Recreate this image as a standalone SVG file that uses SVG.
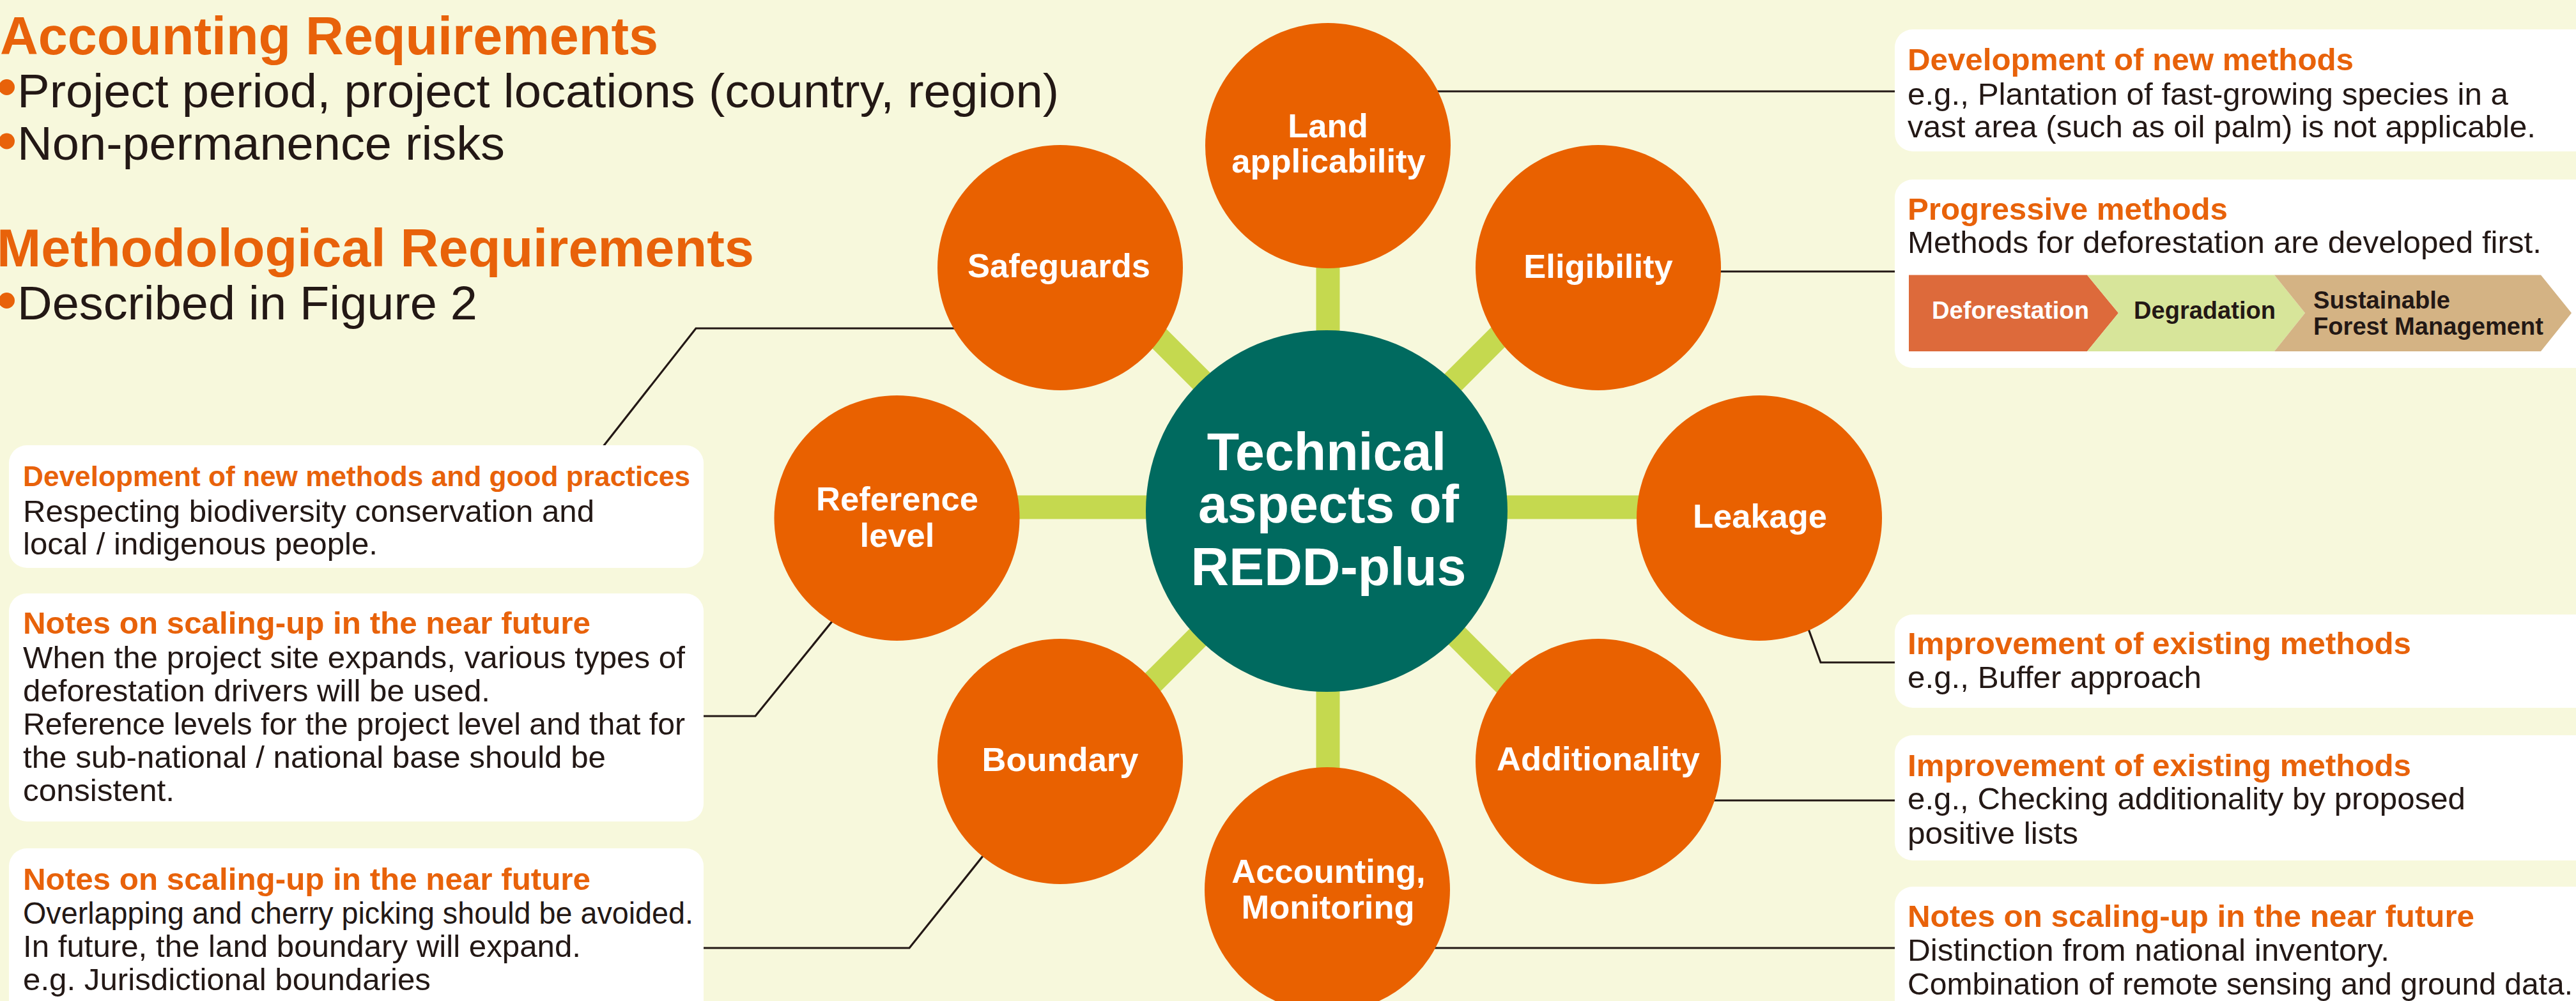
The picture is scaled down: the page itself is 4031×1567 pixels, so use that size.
<svg xmlns="http://www.w3.org/2000/svg" width="4031" height="1567" viewBox="0 0 4031 1567">
<defs>
<style>
text{font-family:"Liberation Sans",Arial,Helvetica,sans-serif;}
.bg{fill:#f7f8dc;}
.spoke{stroke:#c5d94f;stroke-width:37;fill:none;}
.lead{stroke:#231815;stroke-width:3.2;fill:none;}
.node{fill:#e96100;}
.hub{fill:#006a5f;}
.lbl{fill:#ffffff;font-weight:bold;font-size:52.5px;text-anchor:middle;}
.hubl{fill:#ffffff;font-weight:bold;font-size:82.5px;text-anchor:middle;}
.box{fill:#ffffff;}
.hd{fill:#e8620a;font-weight:bold;font-size:49px;}
.bd{fill:#231815;font-size:49px;}
.big{fill:#e8620a;font-weight:bold;font-size:83px;}
.bul{fill:#231815;font-size:75px;}
.dot{fill:#e8620a;}
.chv{font-weight:bold;font-size:38px;}
</style>
</defs>
<rect class="bg" x="0" y="0" width="4031" height="1567"/>

<g id="requirements">
<text class="big" x="0" y="85" textLength="1030" lengthAdjust="spacingAndGlyphs">Accounting Requirements</text>
<circle class="dot" cx="10.5" cy="136.5" r="12.5"/>
<text class="bul" x="27" y="168" textLength="1630" lengthAdjust="spacingAndGlyphs">Project period, project locations (country, region)</text>
<circle class="dot" cx="10.5" cy="221" r="12.5"/>
<text class="bul" x="27" y="250" textLength="763" lengthAdjust="spacingAndGlyphs">Non-permanence risks</text>
<text class="big" x="-5" y="417" textLength="1185" lengthAdjust="spacingAndGlyphs">Methodological Requirements</text>
<circle class="dot" cx="10.5" cy="470.5" r="12.5"/>
<text class="bul" x="27" y="500" textLength="720" lengthAdjust="spacingAndGlyphs">Described in Figure 2</text>
</g>

<g id="connectors">
<line class="spoke" x1="1450" y1="794" x2="2710" y2="794"/>
<line class="spoke" x1="2078" y1="300" x2="2078" y2="1300"/>
<line class="spoke" x1="1678" y1="394" x2="2478" y2="1194"/>
<line class="spoke" x1="2478" y1="394" x2="1678" y2="1194"/>
<polyline class="lead" points="943,700 1089,514 1600,514"/>
<polyline class="lead" points="1098,1121 1182,1121 1340,926"/>
<polyline class="lead" points="1098,1484 1423,1484 1570,1300"/>
<line class="lead" x1="2150" y1="143" x2="2967" y2="143"/>
<line class="lead" x1="2550" y1="425" x2="2967" y2="425"/>
<polyline class="lead" points="2810,930 2849,1037 2967,1037"/>
<line class="lead" x1="2550" y1="1253" x2="2967" y2="1253"/>
<line class="lead" x1="2150" y1="1484" x2="2967" y2="1484"/>
</g>

<g id="hub">
<circle class="hub" cx="2076" cy="800" r="283"/>
<text class="hubl" x="2076" y="735.5">Technical</text>
<text class="hubl" x="2079" y="818">aspects of</text>
<text class="hubl" x="2079" y="916">REDD-plus</text>
</g>
<g id="node-land">
<circle class="node" cx="2078" cy="228" r="192"/>
<text class="lbl" x="2078" y="215">Land</text>
<text class="lbl" x="2079" y="270">applicability</text>
</g>
<g id="node-safeguards">
<circle class="node" cx="1659" cy="419" r="192"/>
<text class="lbl" x="1657" y="434">Safeguards</text>
</g>
<g id="node-eligibility">
<circle class="node" cx="2501" cy="419" r="192"/>
<text class="lbl" x="2501" y="435">Eligibility</text>
</g>
<g id="node-reference">
<circle class="node" cx="1403.5" cy="811" r="192"/>
<text class="lbl" x="1404" y="799">Reference</text>
<text class="lbl" x="1404" y="856">level</text>
</g>
<g id="node-leakage">
<circle class="node" cx="2753" cy="811" r="192"/>
<text class="lbl" x="2754" y="826">Leakage</text>
</g>
<g id="node-boundary">
<circle class="node" cx="1659" cy="1192" r="192"/>
<text class="lbl" x="1659" y="1207">Boundary</text>
</g>
<g id="node-additionality">
<circle class="node" cx="2501" cy="1192" r="192"/>
<text class="lbl" x="2501" y="1206">Additionality</text>
</g>
<g id="node-accounting">
<circle class="node" cx="2077" cy="1393" r="192"/>
<text class="lbl" x="2079" y="1382">Accounting,</text>
<text class="lbl" x="2078" y="1438">Monitoring</text>
</g>

<g id="note-safeguards">
<rect class="box" x="14" y="697" width="1087" height="192" rx="28"/>
<text class="hd" x="36" y="761" style="font-size:44px" textLength="1044" lengthAdjust="spacingAndGlyphs">Development of new methods and good practices</text>
<text class="bd" x="36" y="817" textLength="894" lengthAdjust="spacingAndGlyphs">Respecting biodiversity conservation and</text>
<text class="bd" x="36" y="867.5" textLength="555" lengthAdjust="spacingAndGlyphs">local / indigenous people.</text>
</g>
<g id="note-reference">
<rect class="box" x="14" y="929" width="1087" height="357" rx="28"/>
<text class="hd" x="36" y="992" textLength="888" lengthAdjust="spacingAndGlyphs">Notes on scaling-up in the near future</text>
<text class="bd" x="36" y="1046" textLength="1036" lengthAdjust="spacingAndGlyphs">When the project site expands, various types of</text>
<text class="bd" x="36" y="1098" textLength="731" lengthAdjust="spacingAndGlyphs">deforestation drivers will be used.</text>
<text class="bd" x="36" y="1150" textLength="1036" lengthAdjust="spacingAndGlyphs">Reference levels for the project level and that for</text>
<text class="bd" x="36" y="1202" textLength="912" lengthAdjust="spacingAndGlyphs">the sub-national / national base should be</text>
<text class="bd" x="36" y="1254" textLength="237" lengthAdjust="spacingAndGlyphs">consistent.</text>
</g>
<g id="note-boundary">
<rect class="box" x="14" y="1328" width="1087" height="280" rx="28"/>
<text class="hd" x="36" y="1393" textLength="888" lengthAdjust="spacingAndGlyphs">Notes on scaling-up in the near future</text>
<text class="bd" x="36" y="1446" textLength="1049" lengthAdjust="spacingAndGlyphs">Overlapping and cherry picking should be avoided.</text>
<text class="bd" x="36" y="1498" textLength="873" lengthAdjust="spacingAndGlyphs">In future, the land boundary will expand.</text>
<text class="bd" x="36" y="1550" textLength="638" lengthAdjust="spacingAndGlyphs">e.g. Jurisdictional boundaries</text>
</g>

<g id="note-land">
<rect class="box" x="2965" y="46" width="1100" height="191" rx="28"/>
<text class="hd" x="2985" y="110" textLength="698" lengthAdjust="spacingAndGlyphs">Development of new methods</text>
<text class="bd" x="2985" y="164" textLength="940" lengthAdjust="spacingAndGlyphs">e.g., Plantation of fast-growing species in a</text>
<text class="bd" x="2985" y="215" textLength="983" lengthAdjust="spacingAndGlyphs">vast area (such as oil palm) is not applicable.</text>
</g>
<g id="note-eligibility">
<rect class="box" x="2965" y="281" width="1100" height="295" rx="28"/>
<text class="hd" x="2985" y="344" textLength="501" lengthAdjust="spacingAndGlyphs">Progressive methods</text>
<text class="bd" x="2985" y="396" textLength="992" lengthAdjust="spacingAndGlyphs">Methods for deforestation are developed first.</text>
<polygon fill="#dd6a3b" points="2987,430.5 3266,430.5 3315,490 3266,550 2987,550"/>
<polygon fill="#d7e59a" points="3266,430.5 3559,430.5 3607,490 3559,550 3266,550 3315,490"/>
<polygon fill="#d4b384" points="3559,430.5 3976,430.5 4024,490 3976,550 3559,550 3607,490"/>
<text class="chv" x="3023" y="499" fill="#ffffff" textLength="246" lengthAdjust="spacingAndGlyphs">Deforestation</text>
<text class="chv" x="3339" y="499" fill="#231815" textLength="222" lengthAdjust="spacingAndGlyphs">Degradation</text>
<text class="chv" x="3620" y="483" fill="#231815" textLength="214" lengthAdjust="spacingAndGlyphs">Sustainable</text>
<text class="chv" x="3620" y="523.5" fill="#231815" textLength="360" lengthAdjust="spacingAndGlyphs">Forest Management</text>
</g>
<g id="note-leakage">
<rect class="box" x="2965" y="962" width="1100" height="146" rx="28"/>
<text class="hd" x="2985" y="1024" textLength="788" lengthAdjust="spacingAndGlyphs">Improvement of existing methods</text>
<text class="bd" x="2985" y="1076.5" textLength="460" lengthAdjust="spacingAndGlyphs">e.g., Buffer approach</text>
</g>
<g id="note-additionality">
<rect class="box" x="2965" y="1151" width="1100" height="196" rx="28"/>
<text class="hd" x="2985" y="1215" textLength="788" lengthAdjust="spacingAndGlyphs">Improvement of existing methods</text>
<text class="bd" x="2985" y="1267" textLength="873" lengthAdjust="spacingAndGlyphs">e.g., Checking additionality by proposed</text>
<text class="bd" x="2985" y="1321" textLength="267" lengthAdjust="spacingAndGlyphs">positive lists</text>
</g>
<g id="note-accounting">
<rect class="box" x="2965" y="1388" width="1100" height="220" rx="28"/>
<text class="hd" x="2985" y="1451" textLength="887" lengthAdjust="spacingAndGlyphs">Notes on scaling-up in the near future</text>
<text class="bd" x="2985" y="1504" textLength="754" lengthAdjust="spacingAndGlyphs">Distinction from national inventory.</text>
<text class="bd" x="2985" y="1557" textLength="1041" lengthAdjust="spacingAndGlyphs">Combination of remote sensing and ground data.</text>
</g>
</svg>
